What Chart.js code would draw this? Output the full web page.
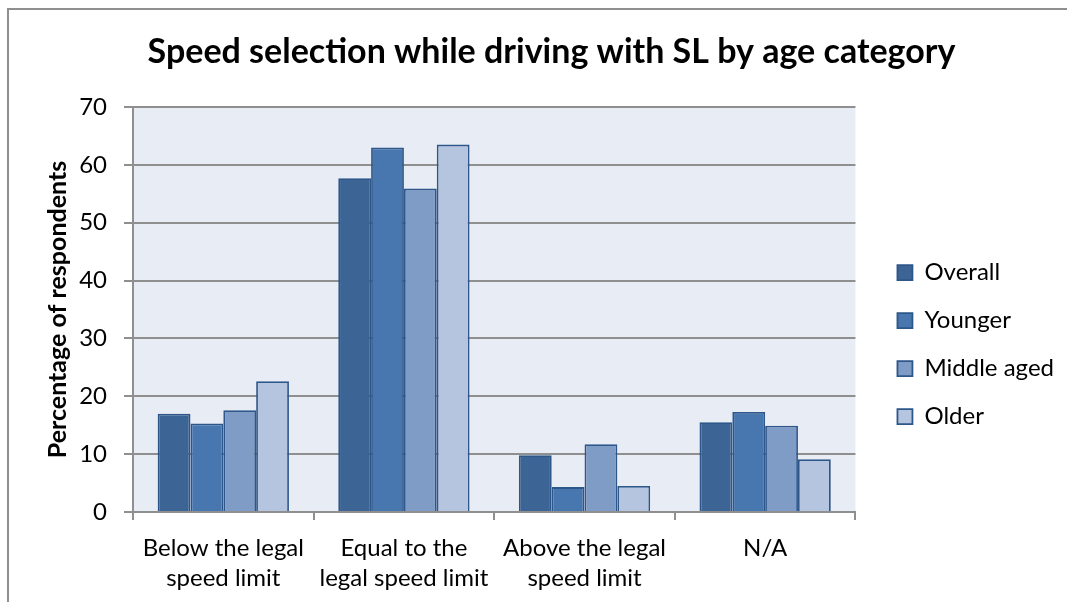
<!DOCTYPE html>
<html>
<head>
<meta charset="utf-8">
<script src="https://cdn.jsdelivr.net/npm/chart.js@4.4.1/dist/chart.umd.min.js"></script>
<style>
  html, body { margin: 0; padding: 0; background: #fff; }
  #wrap { position: relative; width: 1067px; height: 602px; overflow: hidden; }
  #frame {
    position: absolute; left: 7px; top: 8px; width: 1100px; height: 700px;
    border-top: 2px solid #8f8f8f; border-left: 2px solid #8f8f8f;
    pointer-events: none;
  }
  canvas { position: absolute; left: 0; top: 0; }
</style>
</head>
<body>
<div id="wrap">
  <canvas id="speedChart" width="1067" height="602"></canvas>
  <div id="frame"></div>
</div>
<script>
const categories = [
  ['Below the legal', 'speed limit'],
  ['Equal to the', 'legal speed limit'],
  ['Above the legal', 'speed limit'],
  'N/A'
];
const overall = [17.0, 57.7, 9.8, 15.5];
const younger = [15.3, 63.0, 4.3, 17.3];
const middleAged = [17.6, 55.9, 11.7, 14.9];
const older = [22.6, 63.5, 4.5, 9.1];
const yTicks = [0, 10, 20, 30, 40, 50, 60, 70];

const FONT = 'Lato, "Open Sans", sans-serif';
const GRID = '#8f8f8f';
const EDGE = '#2d578a';

// light blue-grey fill behind the plot area
const plotBackground = {
  id: 'plotBackground',
  beforeDraw(chart) {
    const { ctx, chartArea: a } = chart;
    ctx.save();
    ctx.fillStyle = '#e8ecf4';
    ctx.fillRect(a.left, a.top, a.right - a.left, a.bottom - a.top);
    ctx.restore();
  }
};

function series(label, data, color) {
  return {
    label: label,
    data: data,
    backgroundColor: color,
    borderColor: EDGE,
    borderWidth: 1.8,
    categoryPercentage: 0.727,
    barPercentage: 1.0
  };
}

Chart.defaults.font.family = FONT;
Chart.defaults.color = '#000';

new Chart(document.getElementById('speedChart').getContext('2d'), {
  type: 'bar',
  data: {
    labels: categories,
    datasets: [
      series('Overall', overall, '#3c6495'),
      series('Younger', younger, '#4877af'),
      series('Middle aged', middleAged, '#7f9cc7'),
      series('Older', older, '#b5c4df')
    ]
  },
  options: {
    responsive: false,
    animation: false,
    devicePixelRatio: 1,
    layout: { padding: { left: 39, right: 3, top: 0, bottom: 0 } },
    plugins: {
      tooltip: { enabled: false },
      title: {
        display: true,
        text: 'Speed selection while driving with SL by age category',
        font: { size: 34, weight: 'bold', lineHeight: 1.2 },
        padding: { top: 31.6, bottom: 34.6 }
      },
      legend: {
        position: 'right',
        fullSize: false,
        maxWidth: 300,
        title: { display: true, text: ' ', font: { size: 22, lineHeight: 1.2 }, padding: { top: 22, bottom: 22 } },
        labels: {
          font: { size: 24 },
          boxWidth: 15,
          boxHeight: 15,
          padding: 24,
          color: '#000'
        }
      }
    },
    scales: {
      x: {
        offset: true,
        afterFit(scale) { scale.height = 90; },
        grid: {
          display: true,
          offset: true,
          drawOnChartArea: false,
          drawTicks: true,
          tickLength: 8,
          color: GRID,
          lineWidth: 2
        },
        border: { display: true, color: GRID, width: 2 },
        ticks: { font: { size: 24, lineHeight: 1.25 }, padding: 13, maxRotation: 0, autoSkip: false }
      },
      y: {
        min: 0,
        max: 70,
        afterBuildTicks(scale) { scale.ticks = yTicks.map(v => ({ value: v })); },
        afterFit(scale) { scale.width = 94; },
        grid: { color: GRID, lineWidth: 2, tickLength: 9, drawTicks: true },
        border: { display: true, color: GRID, width: 2 },
        ticks: { font: { size: 24 }, padding: 17 },
        title: {
          display: true,
          text: 'Percentage of respondents',
          font: { size: 25, weight: 'bold', lineHeight: 1.2 },
          padding: { top: 4, bottom: 4 }
        }
      },
      gap: {
        // empty strip between plot area and legend
        position: 'right',
        display: true,
        grid: { display: false },
        border: { display: false },
        ticks: { display: false },
        afterFit(scale) { scale.width = 18; }
      }
    }
  },
  plugins: [plotBackground]
});
</script>
</body>
</html>
